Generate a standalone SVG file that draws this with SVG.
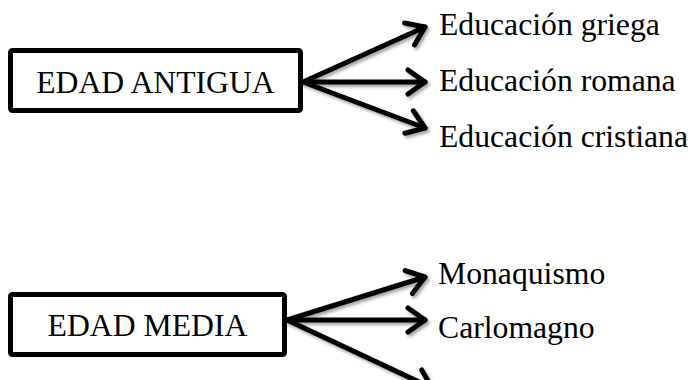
<svg xmlns="http://www.w3.org/2000/svg" width="692" height="380" viewBox="0 0 692 380">
<style>
.box{fill:#fff;stroke:#000;stroke-width:5}
.t{font-family:"Liberation Serif","Times New Roman",serif;font-size:31.7px;fill:#000}
.c{fill:none;stroke:#000;stroke-width:5;stroke-linecap:round;stroke-linejoin:round}
</style>
<defs>
<filter id="sh" x="-20%" y="-20%" width="140%" height="160%">
<feDropShadow dx="2" dy="2.5" stdDeviation="1.5" flood-color="#000" flood-opacity="0.35"/>
</filter>
<marker id="ah" viewBox="-5 -5 10 10" markerWidth="10" markerHeight="10" refX="0" refY="0" orient="auto" markerUnits="strokeWidth" overflow="visible">
<path d="M-3.4,-2.4 L0,0 L-3.4,2.4" fill="none" stroke="#000" stroke-width="1" stroke-linecap="round" stroke-linejoin="round"/>
</marker>
</defs>
<rect width="692" height="380" fill="#fff"/>
<g id="connectors" filter="url(#sh)">
<line class="c" x1="303" y1="82" x2="425" y2="27" marker-end="url(#ah)"/>
<line class="c" x1="303" y1="82" x2="425" y2="82" marker-end="url(#ah)"/>
<line class="c" x1="303" y1="82" x2="425" y2="128" marker-end="url(#ah)"/>
<line class="c" x1="287" y1="320" x2="425" y2="277" marker-end="url(#ah)"/>
<line class="c" x1="287" y1="320" x2="425" y2="320" marker-end="url(#ah)"/>
<line class="c" x1="287" y1="320" x2="432" y2="388" marker-end="url(#ah)"/>
</g>
<g id="edad-antigua">
<rect class="box" x="10.5" y="50.5" width="290" height="60" rx="2"/>
<text class="t" x="155.5" y="92.7" text-anchor="middle">EDAD ANTIGUA</text>
</g>
<g id="edad-media">
<rect class="box" x="10.5" y="294.5" width="274" height="60" rx="2"/>
<text class="t" x="147.5" y="335.7" text-anchor="middle">EDAD MEDIA</text>
</g>
<g id="griega"><text class="t" x="439" y="35">Educación griega</text></g>
<g id="romana"><text class="t" x="439" y="90.7">Educación romana</text></g>
<g id="cristiana"><text class="t" x="439" y="146.7">Educación cristiana</text></g>
<g id="monaquismo"><text class="t" x="438" y="284.3">Monaquismo</text></g>
<g id="carlomagno"><text class="t" x="438" y="338.3">Carlomagno</text></g>
</svg>
